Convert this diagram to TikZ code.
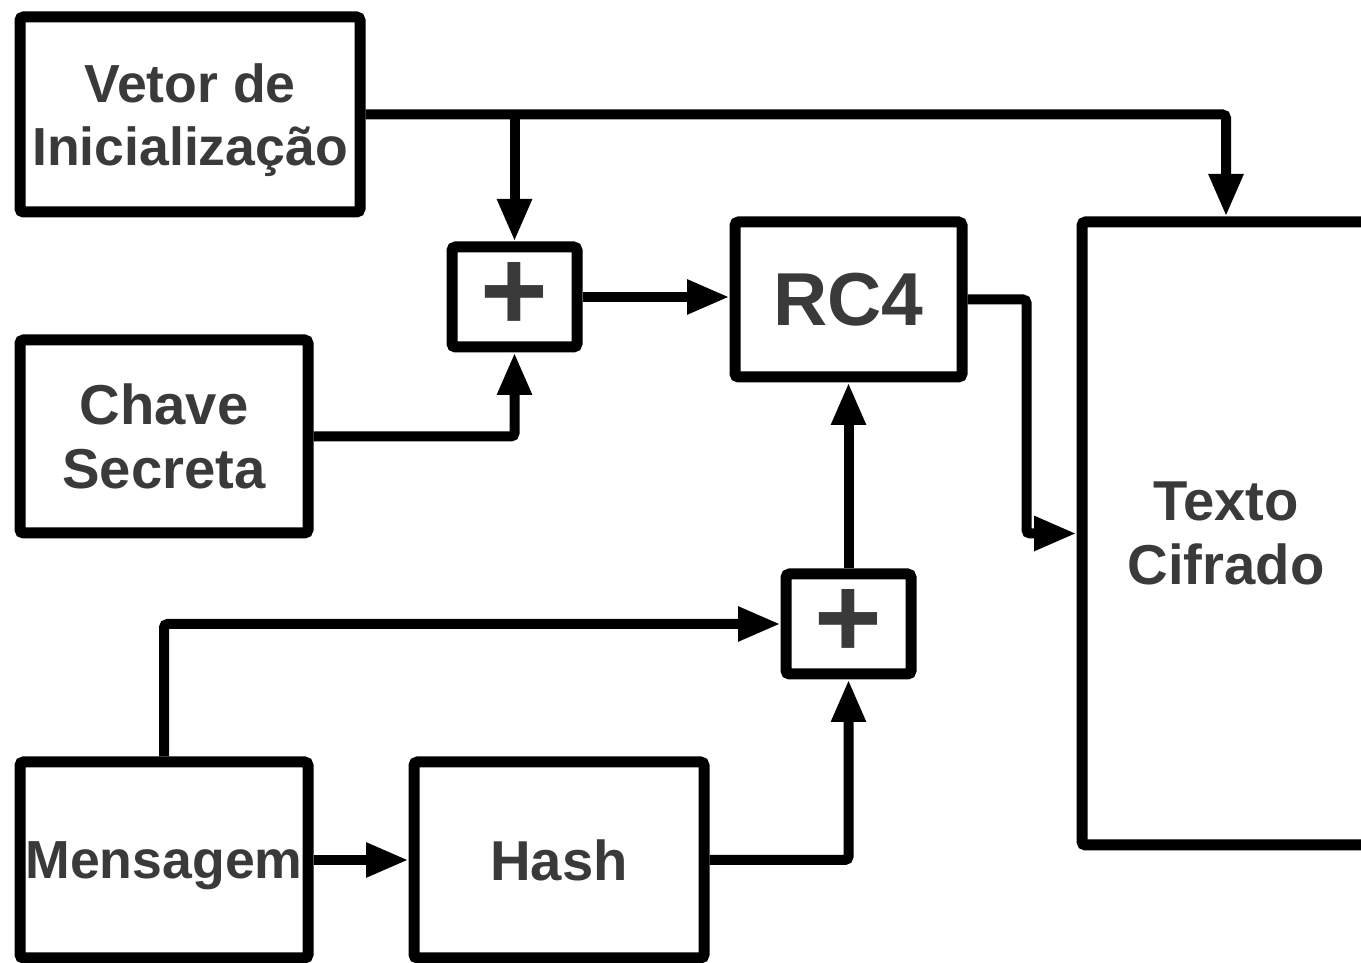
\documentclass[tikz,border=0pt]{standalone}
\usepackage{xcolor}
\usepackage{fontspec}
\setmainfont{Liberation Sans}
\usepackage{tikz}
\usetikzlibrary{arrows.meta, positioning, calc}
\definecolor{InkGrey}{HTML}{3A3A3A}

\begin{document}
\begin{tikzpicture}[node distance=1.9cm, >={Triangle[length=0.85cm, width=0.65cm]}]
    \tikzstyle{block} = [rectangle, draw=black, fill=white, line width=0.22cm, rounded corners=2pt, align=center, text=InkGrey, inner sep=0pt, text depth=0pt, font=\bfseries\fontsize{32}{36.5}\selectfont]
    \tikzstyle{adder} = [block, minimum width=2.5cm, minimum height=2.0cm, font=\bfseries\fontsize{66}{66}\selectfont]
    \tikzstyle{line} = [draw, ->, line width=0.2cm, black, rounded corners=2pt]

    \useasboundingbox (0,0) rectangle (27.22,19.26);
    \clip (0,0) rectangle (27.22,19.26);

    \node [block, minimum width=6.8cm, minimum height=3.9cm, font=\bfseries\fontsize{30.5}{35.5}\selectfont] (vetor) at (3.80,16.97) {Vetor de\\Inicialização};
    \node [block, minimum width=5.76cm, minimum height=3.86cm] (chave) at (3.28,10.53) {Chave\\Secreta};
    \node [block, minimum width=5.76cm, minimum height=3.92cm, font=\bfseries\fontsize{30.5}{35.5}\selectfont] (mensagem) at (3.28,2.06) {Mensagem};
    \node [block, minimum width=5.8cm, minimum height=3.92cm, right=of mensagem] (hash) {Hash};
    \node [adder] (xor1) at (10.29,13.32) {+};
    \node [block, minimum width=4.54cm, minimum height=3.1cm, font=\bfseries\fontsize{42.7}{48}\selectfont] (rc4) at (16.97,13.27) {RC4};
    \node [adder, below=3.72cm of rc4] (xor2) {+};
    \node [block, minimum width=5.76cm, minimum height=12.46cm] (texto) at (24.52,8.59) {Texto\\Cifrado};

    % vetor de inicializacao vai para o xor e para o texto cifrado
    \coordinate (ivsplit) at (xor1 |- vetor.east);
    \path [line] (vetor.east) -| (texto.north);
    \path [line] (ivsplit) -- (xor1.north);
    \path [line] (chave.east) -| (xor1.south);
    \path [line] (xor1.east) -- (xor1.east -| rc4.west);
    \path [line] (rc4.east) -- ++(1.18,0) |- (texto.west);

    % mensagem + hash
    \path [line] (mensagem.north) |- (xor2.west);
    \path [line] (mensagem.east) -- (hash.west);
    \path [line] (hash.east) -| (xor2.south);
    \path [line] (xor2.north) -- (rc4.south);
\end{tikzpicture}
\end{document}
